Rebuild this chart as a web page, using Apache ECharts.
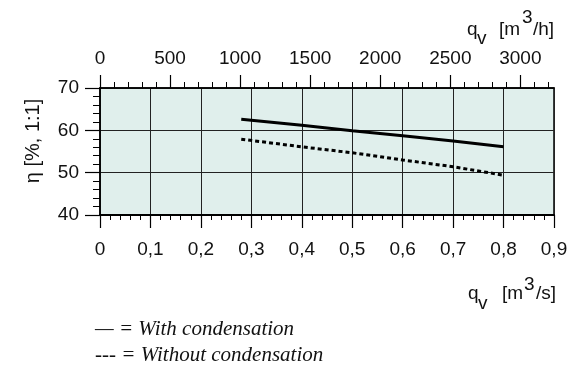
<!DOCTYPE html>
<html>
<head>
<meta charset="utf-8">
<script src="https://cdn.jsdelivr.net/npm/echarts@6/dist/echarts.min.js"></script>
<style>
html,body{margin:0;padding:0;background:#fff;}
#c{width:582px;height:369px;}
</style>
</head>
<body>
<div id="c"></div>
<script>
// Data (flow rate in m3/s, efficiency in %)
var flowWith = [0.28, 0.4, 0.5, 0.6, 0.7, 0.8];
var etaWith = [62.6, 61.2, 59.9, 58.7, 57.5, 56.1];
var flowWithout = [0.28, 0.4, 0.5, 0.6, 0.7, 0.8];
var etaWithout = [57.9, 56.1, 54.7, 53.0, 51.4, 49.4];
var topMajorTicks = [0, 500, 1000, 1500, 2000, 2500, 3000];
var topMinorTicks = [100,200,300,400,600,700,800,900,1100,1200,1300,1400,1600,1700,1800,1900,2100,2200,2300,2400,2600,2700,2800,2900,3100,3200];
var legendLines = ['\u2014 = With condensation', '--- = Without condensation'];

var chart = echarts.init(document.getElementById('c'), null, {renderer: 'canvas'});
var FONT = '"Liberation Sans", Arial, sans-serif';
var txtColor = '#111';

function pairs(xs, ys) { return xs.map(function (x, i) { return [x, ys[i]]; }); }

function nameParts(parts) {
  return parts.map(function (p) {
    return {
      type: 'text', x: p[1], y: p[2] - 2.6, silent: true,
      style: { text: p[0], font: '19px ' + FONT, fill: txtColor, align: 'left', verticalAlign: 'middle' }
    };
  });
}

var graphics = [].concat(
  nameParts([['q', 467, 32], ['v', 477, 41], ['[m', 499, 32], ['3', 522, 20], ['/h]', 533, 32]]),
  nameParts([['q', 468, 296], ['v', 478, 306], ['[m', 502, 296], ['3', 524, 287], ['/s]', 536, 296]]),
  [{
    type: 'text', x: 33.5, y: 141, rotation: Math.PI / 2, silent: true,
    style: { text: '\u03b7 [%, 1:1]', font: '20px ' + FONT, fill: txtColor, align: 'center', verticalAlign: 'middle' }
  }],
  legendLines.map(function (t, i) {
    return {
      type: 'text', x: 95, y: 329 + i * 26, silent: true,
      style: { text: t, font: 'italic 21px "Liberation Serif", "Times New Roman", serif', fill: txtColor, align: 'left', verticalAlign: 'middle' }
    };
  })
);

var option = {
  animation: false,
  backgroundColor: '#fff',
  grid: {
    left: 100, right: 28, top: 88, bottom: 154,
    show: true, backgroundColor: '#e0efec', borderColor: '#000', borderWidth: 1.5
  },
  xAxis: [
    {
      type: 'value', position: 'bottom', min: 0, max: 0.9, interval: 0.1,
      axisLine: { show: true, lineStyle: { color: '#000', width: 2 } },
      axisTick: { show: true, inside: false, length: 13, lineStyle: { color: '#000', width: 1.2 } },
      minorTick: { show: true, splitNumber: 5, length: 5, lineStyle: { color: '#000', width: 1 } },
      splitLine: { show: true, lineStyle: { color: '#222', width: 1 } },
      axisLabel: {
        margin: 25, color: txtColor, fontSize: 19, fontFamily: FONT,
        formatter: function (v) { return v === 0 ? '0' : v.toFixed(1).replace('.', ','); }
      }
    },
    {
      type: 'value', position: 'top', min: 0, max: 3240,
      axisLine: { show: true, lineStyle: { color: '#000', width: 1.5 } },
      axisTick: { show: true, inside: false, length: 13, customValues: topMajorTicks, lineStyle: { color: '#000', width: 1.2 } },
      splitLine: { show: false },
      axisLabel: {
        margin: 20, color: txtColor, fontSize: 19, fontFamily: FONT, customValues: topMajorTicks,
        formatter: function (v) { return String(v); }
      }
    },
    {
      type: 'value', position: 'top', min: 0, max: 3240,
      axisLine: { show: false },
      axisTick: { show: true, inside: false, length: 6, customValues: topMinorTicks, lineStyle: { color: '#000', width: 1 } },
      splitLine: { show: false },
      axisLabel: { show: false }
    }
  ],
  yAxis: [{
    type: 'value', min: 40, max: 70, interval: 10,
    axisLine: { show: true, lineStyle: { color: '#000', width: 1.5 } },
    axisTick: { show: true, inside: false, length: 15, lineStyle: { color: '#000', width: 1.2 } },
    minorTick: { show: true, splitNumber: 5, length: 7, lineStyle: { color: '#000', width: 1 } },
    splitLine: { show: true, lineStyle: { color: '#222', width: 1 } },
    axisLabel: { margin: 21, color: txtColor, fontSize: 19, fontFamily: FONT }
  }],
  series: [
    {
      name: 'With condensation', type: 'line', xAxisIndex: 0, yAxisIndex: 0,
      data: pairs(flowWith, etaWith), showSymbol: false, symbol: 'none',
      lineStyle: { color: '#000', width: 3, type: 'solid' }
    },
    {
      name: 'Without condensation', type: 'line', xAxisIndex: 0, yAxisIndex: 0,
      data: pairs(flowWithout, etaWithout), showSymbol: false, symbol: 'none',
      lineStyle: { color: '#000', width: 3, type: [4, 3] }
    }
  ],
  graphic: graphics
};
chart.setOption(option);
</script>
</body>
</html>
